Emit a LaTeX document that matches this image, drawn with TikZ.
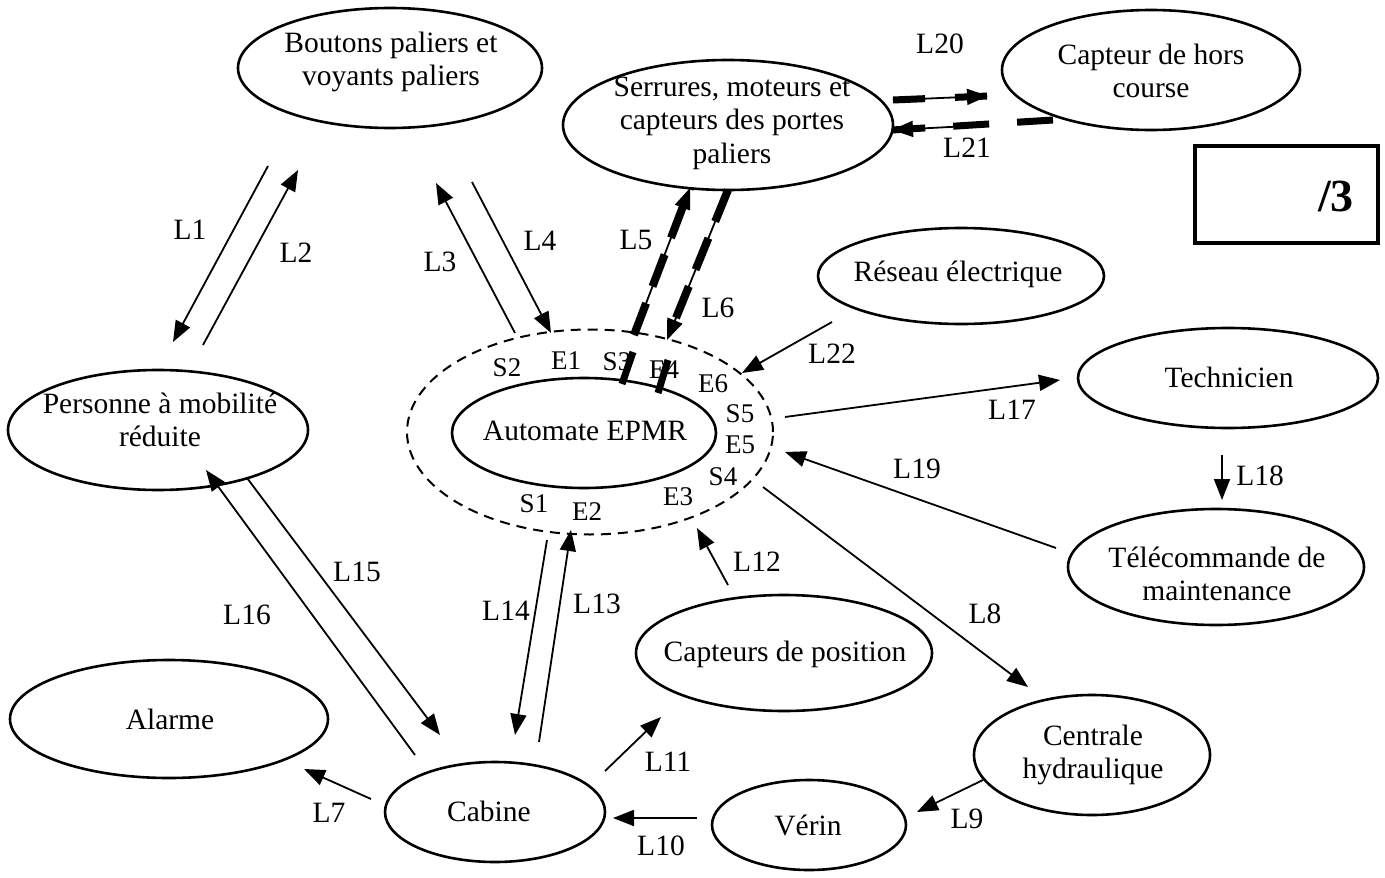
\documentclass[tikz,border=0pt]{standalone}
\usepackage{fontspec}
\setmainfont{Liberation Serif}
\usetikzlibrary{arrows.meta,shapes.geometric,calc}
\begin{document}
\begin{tikzpicture}[x=1pt,y=-1pt,
  every node/.style={font=\fontsize{29.5}{33.5}\selectfont},
  ell/.style={draw,ellipse,line width=2.6pt,inner sep=0pt},
  txt/.style={inner sep=0pt,align=center},
  arr/.style={line width=1.8pt,-{Triangle[length=21pt,width=16pt]}},
  lab/.style={inner sep=0pt},
  port/.style={inner sep=0pt,font=\fontsize{27}{30}\selectfont},
  hand/.style={line width=8pt,dash pattern=on 34pt off 18pt},
]
\useasboundingbox (0,0) rectangle (1385,878);
% nodes
\node[ell,minimum width=304pt,minimum height=120pt] (bout) at (390,68) {};
\node[txt] (boutT) at (391,62) {Boutons paliers et\\voyants paliers};
\node[ell,minimum width=330pt,minimum height=130pt] (serr) at (728,125) {};
\node[txt] (serrT) at (732,123) {Serrures, moteurs et\\capteurs des portes\\paliers};
\node[ell,minimum width=298pt,minimum height=120pt] (hors) at (1151,70) {};
\node[txt] (horsT) at (1151,71) {Capteur de hors\\course};
\node[draw,line width=3.5pt,minimum width=183pt,minimum height=97pt,inner sep=0pt] (box) at (1286.5,194.5) {};
\node[lab,font=\fontsize{46}{50}\selectfont\bfseries] (note) at (1336,196) {/3};
\node[ell,minimum width=286pt,minimum height=96pt] (res) at (961,276) {};
\node[txt] (resT) at (958,274) {Réseau électrique};
\node[ell,minimum width=300pt,minimum height=100pt] (tech) at (1228,378) {};
\node[txt] (techT) at (1229,377) {Technicien};
\node[ell,minimum width=296pt,minimum height=116pt] (tele) at (1216,567) {};
\node[txt] (teleT) at (1217,574) {Télécommande de\\maintenance};
\node[ell,minimum width=300pt,minimum height=120pt] (pers) at (158,430) {};
\node[txt] (persT) at (160,420) {Personne à mobilité\\réduite};
\node[draw,ellipse,dash pattern=on 10pt off 7pt,line width=2pt,minimum width=366pt,minimum height=205pt,inner sep=0pt] (outer) at (590,432) {};
\node[ell,minimum width=264pt,minimum height=110pt] (auto) at (584,433) {};
\node[txt] (autoT) at (585,431) {Automate EPMR};
\node[ell,minimum width=296pt,minimum height=116pt] (cpos) at (784,653) {};
\node[txt] (cposT) at (785,654) {Capteurs de position};
\node[ell,minimum width=318pt,minimum height=118pt] (alarm) at (169,719) {};
\node[txt] (alarmT) at (170,719) {Alarme};
\node[ell,minimum width=220pt,minimum height=100pt] (cab) at (495,812) {};
\node[txt] (cabT) at (489,811) {Cabine};
\node[ell,minimum width=194pt,minimum height=90pt] (verin) at (809,825) {};
\node[txt] (verinT) at (808,825) {Vérin};
\node[ell,minimum width=236pt,minimum height=120pt] (cent) at (1092,755) {};
\node[txt] (centT) at (1093,755) {Centrale\\hydraulique};
% ports
\node[port] (pS2) at (507,368) {S2};
\node[port] (pE1) at (566,361) {E1};
\node[port] (pS3) at (617,362) {S3};
\node[port] (pE4) at (664,370) {E4};
\node[port] (pE6) at (713,384) {E6};
\node[port] (pS5) at (740,414) {S5};
\node[port] (pE5) at (740,445) {E5};
\node[port] (pS4) at (723,477) {S4};
\node[port] (pS1) at (534,504) {S1};
\node[port] (pE2) at (587,512) {E2};
\node[port] (pE3) at (678,497) {E3};
% coordinates
\coordinate (a1) at (268,166); \coordinate (b1) at (173,342);
\coordinate (a2) at (203,345); \coordinate (b2) at (298,170);
\coordinate (a3) at (515,333); \coordinate (b3) at (436,183);
\coordinate (a4) at (472,182); \coordinate (b4) at (551,333);
\coordinate (a5) at (634,335); \coordinate (b5) at (690,188);
\coordinate (a6) at (728,190); \coordinate (b6) at (667,340);
\coordinate (a20) at (893,100); \coordinate (b20) at (988,96);
\coordinate (a21) at (988,125); \coordinate (b21) at (892,130);
\coordinate (c21) at (1053,120);
\coordinate (a22) at (832,322); \coordinate (b22) at (742,373);
\coordinate (a17) at (785,417); \coordinate (b17) at (1060,380);
\coordinate (a18) at (1222,455); \coordinate (b18) at (1222,500);
\coordinate (a19) at (1056,548); \coordinate (b19) at (785,452);
\coordinate (a8) at (763,487); \coordinate (b8) at (1028,687);
\coordinate (a9) at (983,780); \coordinate (b9) at (917,812);
\coordinate (a10) at (697,818); \coordinate (b10) at (613,818);
\coordinate (a11) at (605,771); \coordinate (b11) at (661,717);
\coordinate (a12) at (728,585); \coordinate (b12) at (697,528);
\coordinate (a13) at (539,742); \coordinate (b13) at (571,530);
\coordinate (a14) at (547,540); \coordinate (b14) at (515,735);
\coordinate (a15) at (247,478); \coordinate (b15) at (440,735);
\coordinate (a16) at (415,755); \coordinate (b16) at (206,470);
\coordinate (a7) at (371,799); \coordinate (b7) at (304,769);
% connectors
\draw[arr] (a1) -- (b1);
\draw[arr] (a2) -- (b2);
\draw[arr] (a3) -- (b3);
\draw[arr] (a4) -- (b4);
\draw[arr] (a5) -- (b5);
\draw[hand] (a5) -- (b5);
\draw[arr] (a6) -- (b6);
\draw[hand] (a6) -- ($(b6)!0.1!(a6)$);
\draw[arr] (a20) -- (b20);
\draw[hand,line width=7pt,dash pattern=on 32pt off 30pt] (a20) -- (b20);
\draw[arr] (a21) -- (b21);
\draw[hand,line width=7pt,dash pattern=on 36pt off 28pt] (c21) -- (b21);
\draw[arr] (a22) -- (b22);
\draw[arr] (a17) -- (b17);
\draw[arr] (a18) -- (b18);
\draw[arr] (a19) -- (b19);
\draw[arr] (a8) -- (b8);
\draw[arr] (a9) -- (b9);
\draw[arr] (a10) -- (b10);
\draw[arr] (a11) -- (b11);
\draw[arr] (a12) -- (b12);
\draw[arr] (a13) -- (b13);
\draw[arr] (a14) -- (b14);
\draw[arr] (a15) -- (b15);
\draw[arr] (a16) -- (b16);
\draw[arr] (a7) -- (b7);
% thick marks on ports
\coordinate (m1) at (622,384); \coordinate (m2) at (633,352);
\coordinate (m3) at (658,393); \coordinate (m4) at (668,360);
\draw[line width=7pt] (m1) -- (m2);
\draw[line width=7pt] (m3) -- (m4);
% labels
\node[lab] (l1) at (190,230) {L1};
\node[lab] (l2) at (296,253) {L2};
\node[lab] (l3) at (440,262) {L3};
\node[lab] (l4) at (540,241) {L4};
\node[lab] (l5) at (636,240) {L5};
\node[lab] (l6) at (718,308) {L6};
\node[lab] (l20) at (940,44) {L20};
\node[lab] (l21) at (967,148) {L21};
\node[lab] (l22) at (832,354) {L22};
\node[lab] (l17) at (1012,410) {L17};
\node[lab] (l18) at (1260,476) {L18};
\node[lab] (l19) at (917,469) {L19};
\node[lab] (l8) at (985,614) {L8};
\node[lab] (l9) at (967,819) {L9};
\node[lab] (l10) at (661,846) {L10};
\node[lab] (l11) at (668,762) {L11};
\node[lab] (l12) at (757,562) {L12};
\node[lab] (l13) at (597,604) {L13};
\node[lab] (l14) at (506,611) {L14};
\node[lab] (l15) at (357,572) {L15};
\node[lab] (l16) at (247,615) {L16};
\node[lab] (l7) at (329,813) {L7};
\end{tikzpicture}
\end{document}
